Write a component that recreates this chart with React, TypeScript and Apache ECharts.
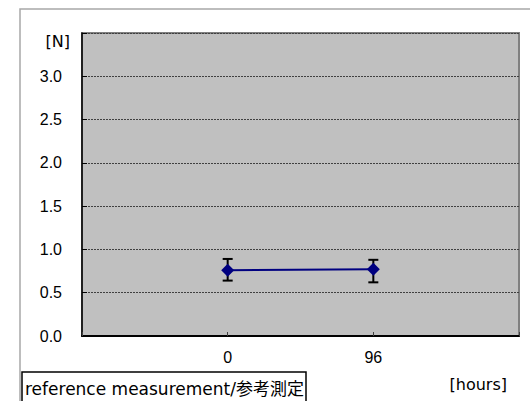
import React, { useEffect, useRef } from "react";
import * as echarts from "echarts";

const hours = [0, 96];
const means = [0.76, 0.77];
const errLow = [0.64, 0.62];
const errHigh = [0.89, 0.88];
const yTicks = ["0.0", "0.5", "1.0", "1.5", "2.0", "2.5", "3.0"];
const yUnit = "[N]";
const xUnit = "[hours]";
const legendText = "reference measurement/参考測定";

const FONT = '"Liberation Sans", "Noto Sans CJK JP", sans-serif';
const FONT2 = '"DejaVu Sans", "Noto Sans CJK JP", sans-serif';

export default function App() {
  const ref = useRef<HTMLDivElement>(null);
  useEffect(() => {
    if (!ref.current) return;
    const chart = echarts.init(ref.current, null, { renderer: "svg" });
    const errData = hours.map((h, i) => [h, errLow[i], errHigh[i]]);
    chart.setOption({
      animation: false,
      backgroundColor: "#ffffff",
      textStyle: { fontFamily: FONT },
      grid: {
        left: 82,
        top: 33,
        right: 11,
        bottom: 65,
        show: true,
        backgroundColor: "#C0C0C0",
        borderColor: "#808080",
        borderWidth: 2,
      },
      xAxis: {
        type: "value",
        min: -96,
        max: 192,
        interval: 96,
        axisLine: { show: true, onZero: false, lineStyle: { color: "#000000", width: 2 } },
        axisTick: { show: true, inside: true, length: 4, lineStyle: { color: "#404040" } },
        splitLine: { show: false },
        axisLabel: {
          margin: 13,
          fontSize: 16,
          color: "#000000",
          fontFamily: FONT,
          formatter: (v: number) => (hours.includes(v) ? String(v) : ""),
        },
      },
      yAxis: {
        type: "value",
        min: 0,
        max: 3.5,
        interval: 0.5,
        axisLine: { show: true, onZero: false, lineStyle: { color: "#000000", width: 1.5 } },
        axisTick: { show: true, inside: true, length: 5, lineStyle: { color: "#000000" } },
        splitLine: {
          show: true,
          lineStyle: { color: "#404040", width: 1, type: [2, 1] },
        },
        axisLabel: {
          margin: 20,
          fontSize: 16,
          color: "#000000",
          fontFamily: FONT,
          formatter: (v: number) => {
            const idx = Math.round(v / 0.5);
            return yTicks[idx] ?? "";
          },
        },
      },
      graphic: [
        {
          type: "rect",
          shape: { x: 20, y: 9, width: 530, height: 420 },
          style: { fill: "none", stroke: "#A8A8A8", lineWidth: 1.5 },
          z: -10,
          silent: true,
        },
        {
          type: "text",
          x: 70,
          y: 41,
          style: {
            text: yUnit,
            fontSize: 16,
            fontFamily: FONT2,
            fill: "#000",
            align: "right",
            verticalAlign: "middle",
          },
        },
        {
          type: "text",
          x: 507,
          y: 384,
          style: {
            text: xUnit,
            fontSize: 16,
            fontFamily: FONT2,
            fill: "#000",
            align: "right",
            verticalAlign: "middle",
          },
        },
        {
          type: "rect",
          shape: { x: 22, y: 372, width: 284, height: 40 },
          style: { fill: "#fff", stroke: "#000", lineWidth: 1.5 },
        },
        {
          type: "text",
          x: 25,
          y: 389,
          style: {
            text: legendText,
            fontSize: 17,
            fontFamily: FONT2,
            fill: "#000",
            align: "left",
            verticalAlign: "middle",
          },
        },
      ],
      series: [
        {
          type: "custom",
          z: 3,
          data: errData,
          renderItem: (params: any, api: any) => {
            const x = api.value(0);
            const lo = api.coord([x, api.value(1)]);
            const hi = api.coord([x, api.value(2)]);
            const cap = 5;
            const st = { stroke: "#000", lineWidth: 2 };
            return {
              type: "group",
              children: [
                { type: "line", shape: { x1: lo[0], y1: lo[1], x2: hi[0], y2: hi[1] }, style: st },
                { type: "line", shape: { x1: lo[0] - cap, y1: lo[1], x2: lo[0] + cap, y2: lo[1] }, style: st },
                { type: "line", shape: { x1: hi[0] - cap, y1: hi[1], x2: hi[0] + cap, y2: hi[1] }, style: st },
              ],
            };
          },
        },
        {
          type: "line",
          z: 4,
          data: hours.map((h, i) => [h, means[i]]),
          symbol: "diamond",
          symbolSize: [13, 13],
          lineStyle: { color: "#000080", width: 2 },
          itemStyle: { color: "#000080" },
        },
      ],
    });
    return () => chart.dispose();
  }, []);
  return (
    <div
      ref={ref}
      style={{ position: "fixed", left: 0, top: 0, width: 530, height: 401 }}
    />
  );
}
